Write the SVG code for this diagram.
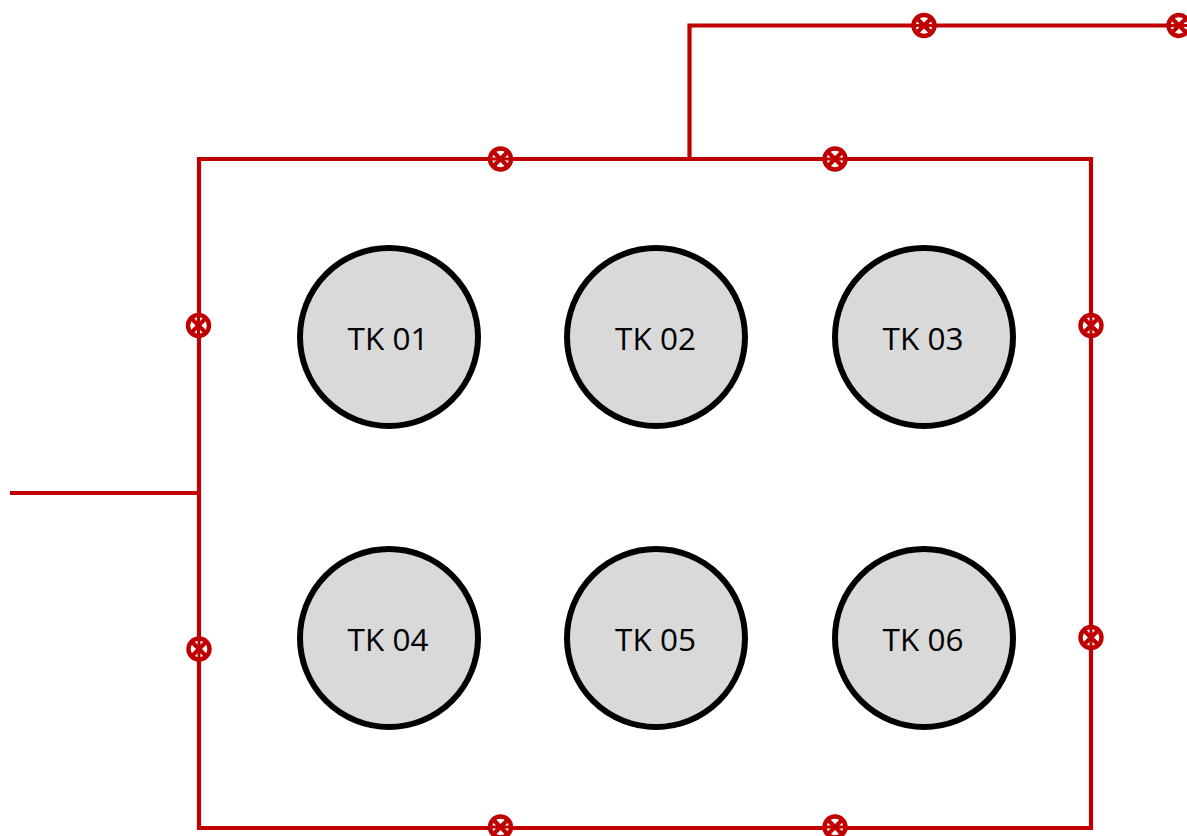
<svg xmlns="http://www.w3.org/2000/svg" width="1187" height="836" viewBox="0 0 1187 836">
<defs>
<g id="valve"><circle r="10.500" fill="#fff" stroke="#c00000" stroke-width="4.400"/><path d="M-7.500-7.500L7.500 7.500M-7.500 7.500L7.500-7.500" stroke="#c00000" stroke-width="4.200" fill="none"/></g>
<g id="valve-h"><use href="#valve"/><path d="M-9 0H9" stroke="#c00000" stroke-width="3" fill="none"/></g>
<g id="valve-v"><use href="#valve"/><path d="M0-9V9" stroke="#c00000" stroke-width="3" fill="none"/></g>
</defs>
<style>
.pipe{fill:none;stroke:#c00000;stroke-width:4.200}
.tank{fill:#d9d9d9;stroke:#000;stroke-width:6}
.lbl{font-family:"Open Sans","Liberation Sans",sans-serif;font-size:31.500px;fill:#000;text-anchor:middle}
</style>
<rect width="1187" height="836" fill="#fff"/>
<g id="connectors">
<path class="pipe" d="M199 159H1091V828H199Z"/>
<path class="pipe" d="M10 493H199"/>
<path class="pipe" d="M689.500 159V25.500H1187"/>
</g>
<g id="valves">
<use href="#valve-h" x="500.500" y="159"/>
<use href="#valve-h" x="835" y="159"/>
<use href="#valve-h" x="924" y="25.500"/>
<use href="#valve-h" x="1179" y="25.500"/>
<use href="#valve-v" x="198.500" y="325.500"/>
<use href="#valve-v" x="199" y="649"/>
<use href="#valve-v" x="1091" y="325.500"/>
<use href="#valve-v" x="1091" y="637.500"/>
<use href="#valve-h" x="500.500" y="827"/>
<use href="#valve-h" x="835" y="827"/>
</g>
<g id="tk01"><circle class="tank" cx="389" cy="337" r="89"/><text class="lbl" x="388" y="350">TK 01</text></g>
<g id="tk02"><circle class="tank" cx="656" cy="337" r="89"/><text class="lbl" x="655.500" y="350">TK 02</text></g>
<g id="tk03"><circle class="tank" cx="924" cy="337" r="89"/><text class="lbl" x="923" y="350">TK 03</text></g>
<g id="tk04"><circle class="tank" cx="389" cy="638" r="89"/><text class="lbl" x="388" y="651">TK 04</text></g>
<g id="tk05"><circle class="tank" cx="656" cy="638" r="89"/><text class="lbl" x="655.500" y="651">TK 05</text></g>
<g id="tk06"><circle class="tank" cx="924" cy="638" r="89"/><text class="lbl" x="923" y="651">TK 06</text></g>
</svg>
